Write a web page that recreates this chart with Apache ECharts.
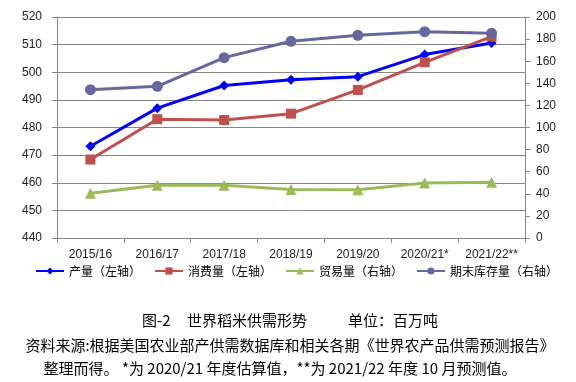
<!DOCTYPE html>
<html>
<head>
<meta charset="utf-8">
<script src="https://cdn.jsdelivr.net/npm/echarts@6/dist/echarts.min.js"></script>
<style>
html,body{margin:0;padding:0;background:#fff;}
#chart{width:576px;height:382px;}
</style>
</head>
<body>
<div id="chart"></div>
<script>
var categories = ['2015/16','2016/17','2017/18','2018/19','2019/20','2020/21*','2021/22**'];
var production = [473.2, 487.0, 495.2, 497.3, 498.4, 506.4, 510.6];
var consumption = [468.4, 483.0, 482.7, 485.0, 493.6, 503.6, 512.9];
var trade = [40.4, 47.7, 47.7, 44.0, 43.7, 49.8, 50.4];
var stocks = [134.2, 137.3, 163.2, 178.0, 183.4, 186.7, 185.2];
var seriesNames = ['产量（左轴）','消费量（左轴）','贸易量（右轴）','期末库存量（右轴）'];
var titleParts = ['图-2','世界稻米供需形势','单位：百万吨'];
var noteLine1 = '资料来源:根据美国农业部产供需数据库和相关各期《世界农产品供需预测报告》';
var noteLine2 = '整理而得。 *为 2020/21 年度估算值，**为 2021/22 年度 10 月预测值。';

var gridColor = '#868686';
var cjk = '"Noto Sans CJK SC", sans-serif';
var chart = echarts.init(document.getElementById('chart'));
var axisLabelStyle = {fontFamily: '"Liberation Sans", Arial, sans-serif', fontSize: 12, color: '#222'};

function lineSeries(name, data, color, symbol, size, yIdx) {
  return {
    name: name, type: 'line', data: data, yAxisIndex: yIdx,
    symbol: symbol, symbolSize: size,
    lineStyle: {color: color, width: 3},
    itemStyle: {color: color},
    emphasis: {disabled: true}
  };
}

chart.setOption({
  animation: false,
  backgroundColor: '#fff',
  grid: {left: 57, right: 51, top: 17, bottom: 144, containLabel: false},
  legend: {
    left: 35, top: 265, width: 540, orient: 'horizontal',
    itemWidth: 28, itemHeight: 9, itemGap: 13, padding: 0,
    textStyle: {fontFamily: cjk, fontSize: 12, color: '#000'},
    data: seriesNames
  },
  xAxis: {
    type: 'category', data: categories, boundaryGap: true,
    axisLine: {show: true, lineStyle: {color: gridColor}},
    axisTick: {show: true, length: 5, alignWithLabel: false, lineStyle: {color: gridColor}},
    axisLabel: Object.assign({margin: 11, interval: 0}, axisLabelStyle),
    splitLine: {show: false}
  },
  yAxis: [{
    type: 'value', min: 440, max: 520, interval: 10, position: 'left',
    axisLine: {show: true, lineStyle: {color: gridColor}},
    axisTick: {show: true, length: 5, lineStyle: {color: gridColor}},
    axisLabel: Object.assign({margin: 15}, axisLabelStyle),
    splitLine: {show: true, lineStyle: {color: gridColor, width: 1}}
  }, {
    type: 'value', min: 0, max: 200, interval: 20, position: 'right',
    axisLine: {show: true, lineStyle: {color: gridColor}},
    axisTick: {show: true, length: 5, lineStyle: {color: gridColor}},
    axisLabel: Object.assign({margin: 11}, axisLabelStyle),
    splitLine: {show: false}
  }],
  series: [
    lineSeries(seriesNames[0], production, '#0000FF', 'diamond', 10, 0),
    lineSeries(seriesNames[1], consumption, '#C0504D', 'rect', 10, 0),
    lineSeries(seriesNames[2], trade, '#9BBB59', 'triangle', 11, 1),
    lineSeries(seriesNames[3], stocks, '#67679F', 'circle', 11, 1)
  ],
  graphic: [
    {type: 'text', left: 142, top: 313, style: {text: titleParts[0], font: '15px ' + cjk, fill: '#000'}},
    {type: 'text', left: 187, top: 313, style: {text: titleParts[1], font: '15px ' + cjk, fill: '#000'}},
    {type: 'text', left: 348, top: 313, style: {text: titleParts[2], font: '15px ' + cjk, fill: '#000'}},
    {type: 'text', x: 290, y: 345, style: {text: noteLine1, font: '15px ' + cjk, fill: '#000', align: 'center', verticalAlign: 'middle'}},
    {type: 'text', x: 280, y: 368, style: {text: noteLine2, font: '15px ' + cjk, fill: '#000', align: 'center', verticalAlign: 'middle'}}
  ]
});
</script>
</body>
</html>
